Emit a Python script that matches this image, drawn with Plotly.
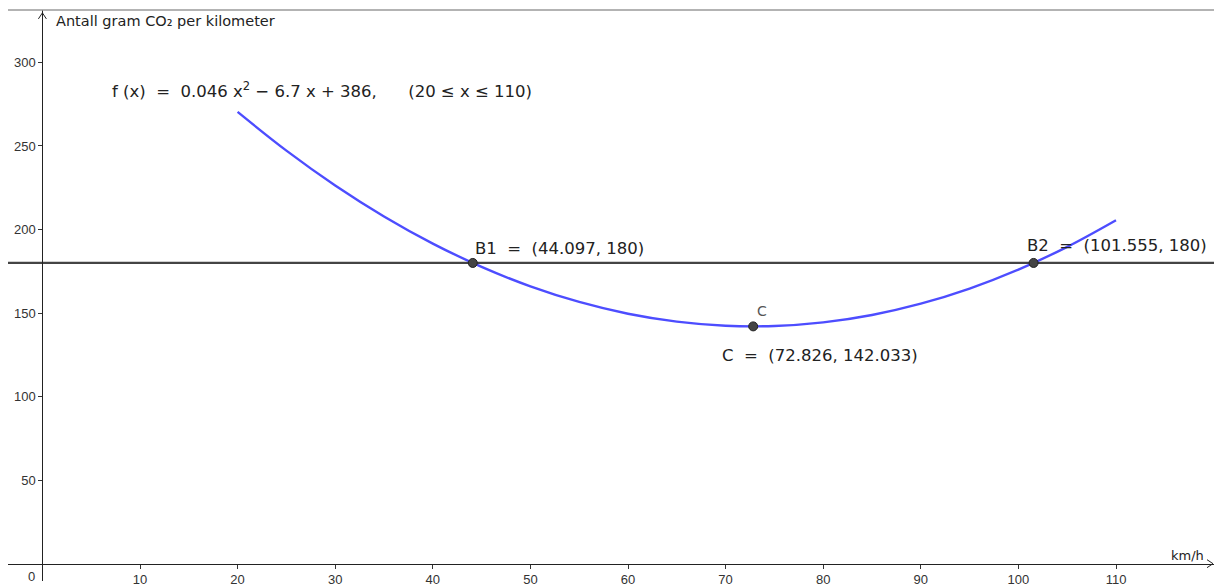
import plotly.graph_objects as go

# ---- data ----
speed_kmh = [20, 25, 30, 35, 40, 45, 50, 55, 60, 65, 70, 75, 80, 85, 90, 95, 100, 105, 110]
co2_g_per_km = [270.4, 247.25, 226.4, 207.85, 191.6, 177.65, 166.0, 156.65, 149.6, 144.85,
                142.4, 142.25, 144.4, 148.85, 155.6, 164.65, 176.0, 189.65, 205.6]
level_value = 180
point_names = ["B1", "C", "B2"]
point_x = [44.097, 72.826, 101.555]
point_y = [180, 142.033, 180]
x_ticks = [10, 20, 30, 40, 50, 60, 70, 80, 90, 100, 110]
y_ticks = [50, 100, 150, 200, 250, 300]
formula_text = ("f (x) &nbsp;= &nbsp;0.046 x<sup>2</sup> − 6.7 x + 386, "
                "&nbsp;&nbsp;&nbsp;&nbsp;&nbsp;(20 ≤ x ≤ 110)")
y_title = "Antall gram CO₂ per kilometer"
x_title = "km/h"

W, H = 1214, 587
# pixel calibration
px_per_x = 9.76
x0_px = 42.4
left_px = 8
px_per_y = 1.688
y0_px = 569.5
top_px = 10

x_range = [(left_px - x0_px) / px_per_x, (W - x0_px) / px_per_x]
y_range = [-(H - y0_px) / px_per_y, (y0_px - top_px) / px_per_y]

FONT = "DejaVu Sans, sans-serif"
TICKFONT = "Liberation Sans, Arial, sans-serif"
MATH = "DejaVu Sans, sans-serif"
tick_col = "#333333"
text_col = "#222222"

fig = go.Figure()

# horizontal level line y=180
fig.add_trace(go.Scatter(x=[x_range[0] - 5, x_range[1] + 5], y=[level_value, level_value],
                         mode="lines", line=dict(color="#444444", width=2.2),
                         hoverinfo="skip", showlegend=False))

# function curve
fig.add_trace(go.Scatter(x=speed_kmh, y=co2_g_per_km, mode="lines",
                         line=dict(color="#4d4dff", width=2.4, shape="spline", smoothing=1.0),
                         hoverinfo="skip", showlegend=False))

# points
fig.add_trace(go.Scatter(x=point_x, y=point_y, mode="markers",
                         marker=dict(size=9, color="#444444", line=dict(color="#222222", width=1)),
                         hoverinfo="skip", showlegend=False))

fig.update_layout(
    width=W, height=H,
    margin=dict(l=0, r=0, t=0, b=0),
    paper_bgcolor="white", plot_bgcolor="white",
    xaxis=dict(domain=[left_px / W, 1], range=x_range, anchor="free",
               position=(H - y0_px) / H,
               showgrid=False, zeroline=False, showline=True, linecolor="#222222", linewidth=1.3,
               tickmode="array", tickvals=x_ticks, ticktext=[str(v) for v in x_ticks],
               ticks="outside", ticklen=4, tickcolor="#333333", tickwidth=1,
               tickfont=dict(family=TICKFONT, size=13, color=tick_col), fixedrange=True),
    yaxis=dict(domain=[0, 1 - top_px / H], range=y_range, anchor="free",
               position=x0_px / W,
               showgrid=False, zeroline=False, showline=True, linecolor="#222222", linewidth=1.3,
               tickmode="array", tickvals=y_ticks, ticktext=[str(v) for v in y_ticks],
               ticks="outside", ticklen=4, tickcolor="#333333", tickwidth=1,
               tickfont=dict(family=TICKFONT, size=13, color=tick_col), fixedrange=True),
    showlegend=False,
)

shapes = []
# top border line of the graphics view
shapes.append(dict(type="line", xref="paper", yref="paper", x0=left_px / W, x1=1,
                   y0=1 - top_px / H, y1=1 - top_px / H, line=dict(color="#9a9a9a", width=1.5)))
# y-axis arrow head
for dx in (-4, 4):
    shapes.append(dict(type="line", xref="x", yref="y", xsizemode="pixel", ysizemode="pixel",
                       xanchor=0, yanchor=y_range[1], x0=0, x1=dx, y0=-3, y1=-9,
                       line=dict(color="#222222", width=1)))
# x-axis arrow head
for dy in (-4, 4):
    shapes.append(dict(type="line", xref="x", yref="y", xsizemode="pixel", ysizemode="pixel",
                       xanchor=x_range[1], yanchor=0, x0=-1, x1=-7, y0=0, y1=dy,
                       line=dict(color="#222222", width=1)))
fig.update_layout(shapes=shapes)

ann = []
ann.append(dict(x=0, y=y_range[1], xref="x", yref="y", text=y_title, showarrow=False,
                xanchor="left", yanchor="middle", xshift=12, yshift=-11,
                font=dict(family=FONT, size=14.5, color=text_col)))
ann.append(dict(x=x_range[1], y=0, xref="x", yref="y", text=x_title, showarrow=False,
                xanchor="right", yanchor="bottom", xshift=-8, yshift=-1,
                font=dict(family=FONT, size=13, color=text_col)))
ann.append(dict(x=0, y=0, xref="x", yref="y", text="0", showarrow=False,
                xanchor="right", yanchor="top", xshift=-5, yshift=-3,
                font=dict(family=TICKFONT, size=13, color=tick_col)))
ann.append(dict(x=speed_kmh[0], y=y_range[1], xref="x", yref="y", text=formula_text,
                showarrow=False, xanchor="left", yanchor="middle",
                xshift=-128, yshift=-80,
                font=dict(family=MATH, size=16.5, color=text_col)))
# point labels
labels = [
    (point_x[0], point_y[0], f"{point_names[0]} &nbsp;= &nbsp;({point_x[0]:.3f}, {point_y[0]:g})", 0, 14),
    (point_x[1], point_y[1], f"{point_names[1]} &nbsp;= &nbsp;({point_x[1]:.3f}, {point_y[1]:.3f})", -33, -29),
    (point_x[2], point_y[2], f"{point_names[2]} &nbsp;= &nbsp;({point_x[2]:.3f}, {point_y[2]:g})", -9, 17),
]
for x, y, t, xs, ys in labels:
    ann.append(dict(x=x, y=y, xref="x", yref="y", text=t, showarrow=False,
                    xanchor="left", yanchor="middle", xshift=xs, yshift=ys,
                    font=dict(family=MATH, size=16.5, color=text_col)))
ann.append(dict(x=point_x[1], y=point_y[1], xref="x", yref="y", text=point_names[1],
                showarrow=False, xanchor="left", yanchor="middle", xshift=2, yshift=15,
                font=dict(family=FONT, size=14, color="#555555")))
fig.update_layout(annotations=ann)

fig.write_html("out.html", config={"displayModeBar": False},
               post_script="document.body.style.margin='0px';")
